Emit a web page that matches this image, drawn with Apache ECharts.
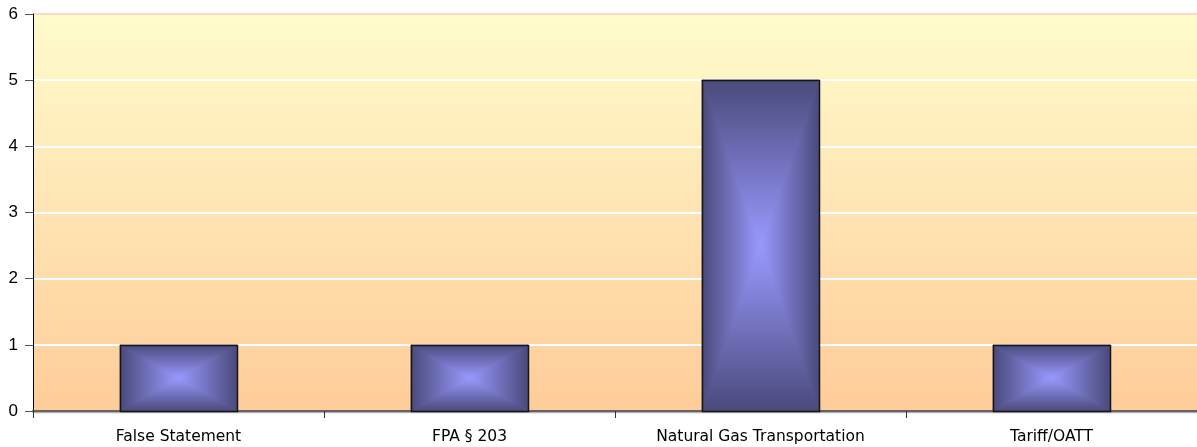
<!DOCTYPE html>
<html>
<head>
<meta charset="utf-8">
<script src="https://cdn.jsdelivr.net/npm/echarts@6/dist/echarts.min.js"></script>
<style>
html,body{margin:0;padding:0;background:#fff;}
#chart{width:1197px;height:447px;}
</style>
</head>
<body>
<div id="chart"></div>
<script>
const categories = ['False Statement', 'FPA § 203', 'Natural Gas Transportation', 'Tariff/OATT'];
const values = [1, 1, 5, 1];
const yTicks = [0, 1, 2, 3, 4, 5, 6];

const EDGE = '#4a4a7c';
const CENTER = '#9999ff';

const chart = echarts.init(document.getElementById('chart'));

function renderBar(params, api) {
  const idx = api.value(0);
  const val = api.value(1);
  const top = api.coord([idx, val]);
  const base = api.coord([idx, 0]);
  const bandW = api.size([1, 0])[0];
  const w = bandW * 0.405;
  const x0 = Math.round(top[0] - w / 2), x1 = Math.round(top[0] + w / 2);
  const y0 = Math.round(top[1]), y1 = Math.round(base[1]);
  const cx = (x0 + x1) / 2, cy = (y0 + y1) / 2;
  const stops = [{offset: 0, color: EDGE}, {offset: 1, color: CENTER}];
  const G = echarts.graphic.LinearGradient;
  const tri = (pts, grad) => ({type: 'polygon', shape: {points: pts},
    style: {fill: grad, stroke: grad, lineWidth: 0.6}});
  return {
    type: 'group',
    children: [
      {type: 'rect', shape: {x: x0, y: y0, width: x1 - x0, height: y1 - y0},
        style: {fill: '#6f6fb8'}},
      tri([[x0, y0], [x1, y0], [cx, cy]], new G(0, y0, 0, cy, stops, true)),
      tri([[x0, y1], [x1, y1], [cx, cy]], new G(0, y1, 0, cy, stops, true)),
      tri([[x0, y0], [x0, y1], [cx, cy]], new G(x0, 0, cx, 0, stops, true)),
      tri([[x1, y0], [x1, y1], [cx, cy]], new G(x1, 0, cx, 0, stops, true)),
      {type: 'rect', shape: {x: x0 + 0.5, y: y0 + 0.5, width: x1 - x0, height: y1 - y0},
        style: {fill: null, stroke: '#151515', lineWidth: 1.5}}
    ]
  };
}

chart.setOption({
  animation: false,
  grid: {
    left: 33, right: 0, top: 14, bottom: 36,
    show: true, borderWidth: 0,
    backgroundColor: new echarts.graphic.LinearGradient(0, 0, 0, 1, [
      {offset: 0, color: '#fffbcc'},
      {offset: 1, color: '#ffcc99'}
    ])
  },
  xAxis: {
    type: 'category',
    data: categories,
    boundaryGap: true,
    axisLine: {show: true, lineStyle: {color: '#333333', width: 1.5, shadowColor: 'rgba(0,0,0,0.3)', shadowOffsetY: 1.5}},
    axisTick: {show: true, length: 7, alignWithLabel: false, lineStyle: {color: '#333333'}},
    axisLabel: {color: '#000', fontFamily: '"DejaVu Sans", sans-serif', fontSize: 15.5, margin: 18, interval: 0}
  },
  yAxis: {
    type: 'value',
    min: yTicks[0], max: yTicks[yTicks.length - 1], interval: 1,
    axisLine: {show: true, lineStyle: {color: '#000', width: 1}},
    axisTick: {show: true, length: 8, lineStyle: {color: '#555'}},
    axisLabel: {color: '#000', fontFamily: '"Liberation Sans", Arial, sans-serif', fontSize: 17, margin: 15},
    splitLine: {show: true, lineStyle: {color: ['#ffffff', '#ffffff', '#ffffff', '#ffffff', '#ffffff', '#ffffff', '#ffd8c0'], width: 2}}
  },
  series: [{
    type: 'custom',
    renderItem: renderBar,
    encode: {x: 0, y: 1},
    data: values.map((v, i) => [i, v]),
    z: 3
  }]
});
</script>
</body>
</html>
